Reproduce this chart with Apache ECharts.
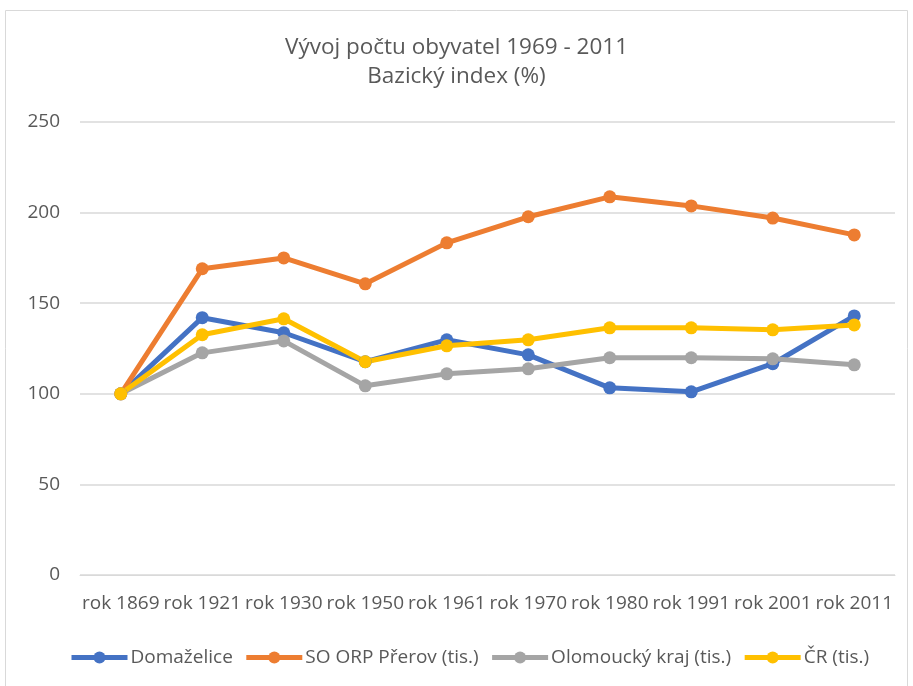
<!DOCTYPE html>
<html><head><meta charset="utf-8">
<script src="https://cdn.jsdelivr.net/npm/echarts@6/dist/echarts.min.js"></script>
<style>html,body{margin:0;padding:0;background:#fff}#c{width:913px;height:686px}</style>
</head><body><div id="c"></div>
<script>
const categories = ['rok 1869','rok 1921','rok 1930','rok 1950','rok 1961','rok 1970','rok 1980','rok 1991','rok 2001','rok 2011'];
const domazelice = [100,142,133.7,117.7,129.8,121.5,103.3,101.1,116.6,143];
const prerov = [100,169,175,160.7,183.3,197.7,208.7,203.7,197,187.7];
const olomouc = [100,122.6,129.2,104.4,111,113.8,119.9,119.9,119.3,116];
const cr = [100,132.6,141.4,117.7,126.5,129.8,136.4,136.4,135.3,138];
const names = ['Domaželice','SO ORP Přerov (tis.)','Olomoucký kraj (tis.)','ČR (tis.)'];
const colors = ['#4472C4','#ED7D31','#A5A5A5','#FFC000'];
const font = 'Open Sans';
const chart = echarts.init(document.getElementById('c'));
const mk = (name, data, color) => ({
  name, type:'line', data, symbol:'circle', symbolSize:13,
  lineStyle:{width:5,color}, itemStyle:{color}, z: 2
});
chart.setOption({
  animation:false,
  color: colors,
  graphic:[{type:'rect',shape:{x:5.5,y:10.5,width:902,height:700},style:{fill:null,stroke:'#d9d9d9',lineWidth:1}}],
  title:{text:'Vývoj počtu obyvatel 1969 - 2011\nBazický index (%)',left:'center',top:28,
    textStyle:{fontFamily:font,fontWeight:'normal',fontSize:22.5,color:'#595959',lineHeight:29}},
  grid:{left:80,right:18,top:122,bottom:111},
  legend:{top:643,left:64,itemWidth:56,itemHeight:15,itemGap:11,
    lineStyle:{width:5},
    textStyle:{fontFamily:font,fontSize:19,color:'#595959',padding:[0,0,0,-2]},data:names},
  xAxis:{type:'category',data:categories,boundaryGap:true,
    axisLine:{show:true,lineStyle:{color:'#d9d9d9'}},axisTick:{show:false},
    axisLabel:{fontFamily:font,fontSize:19,color:'#595959',margin:19,interval:0}},
  yAxis:{type:'value',min:0,max:250,interval:50,
    axisLine:{show:false},axisTick:{show:false},
    splitLine:{lineStyle:{color:'#d9d9d9',width:1.5}},
    axisLabel:{fontFamily:font,fontSize:19,color:'#595959',margin:20}},
  series:[mk(names[0],domazelice,colors[0]),mk(names[1],prerov,colors[1]),mk(names[2],olomouc,colors[2]),mk(names[3],cr,colors[3])]
});
</script></body></html>
